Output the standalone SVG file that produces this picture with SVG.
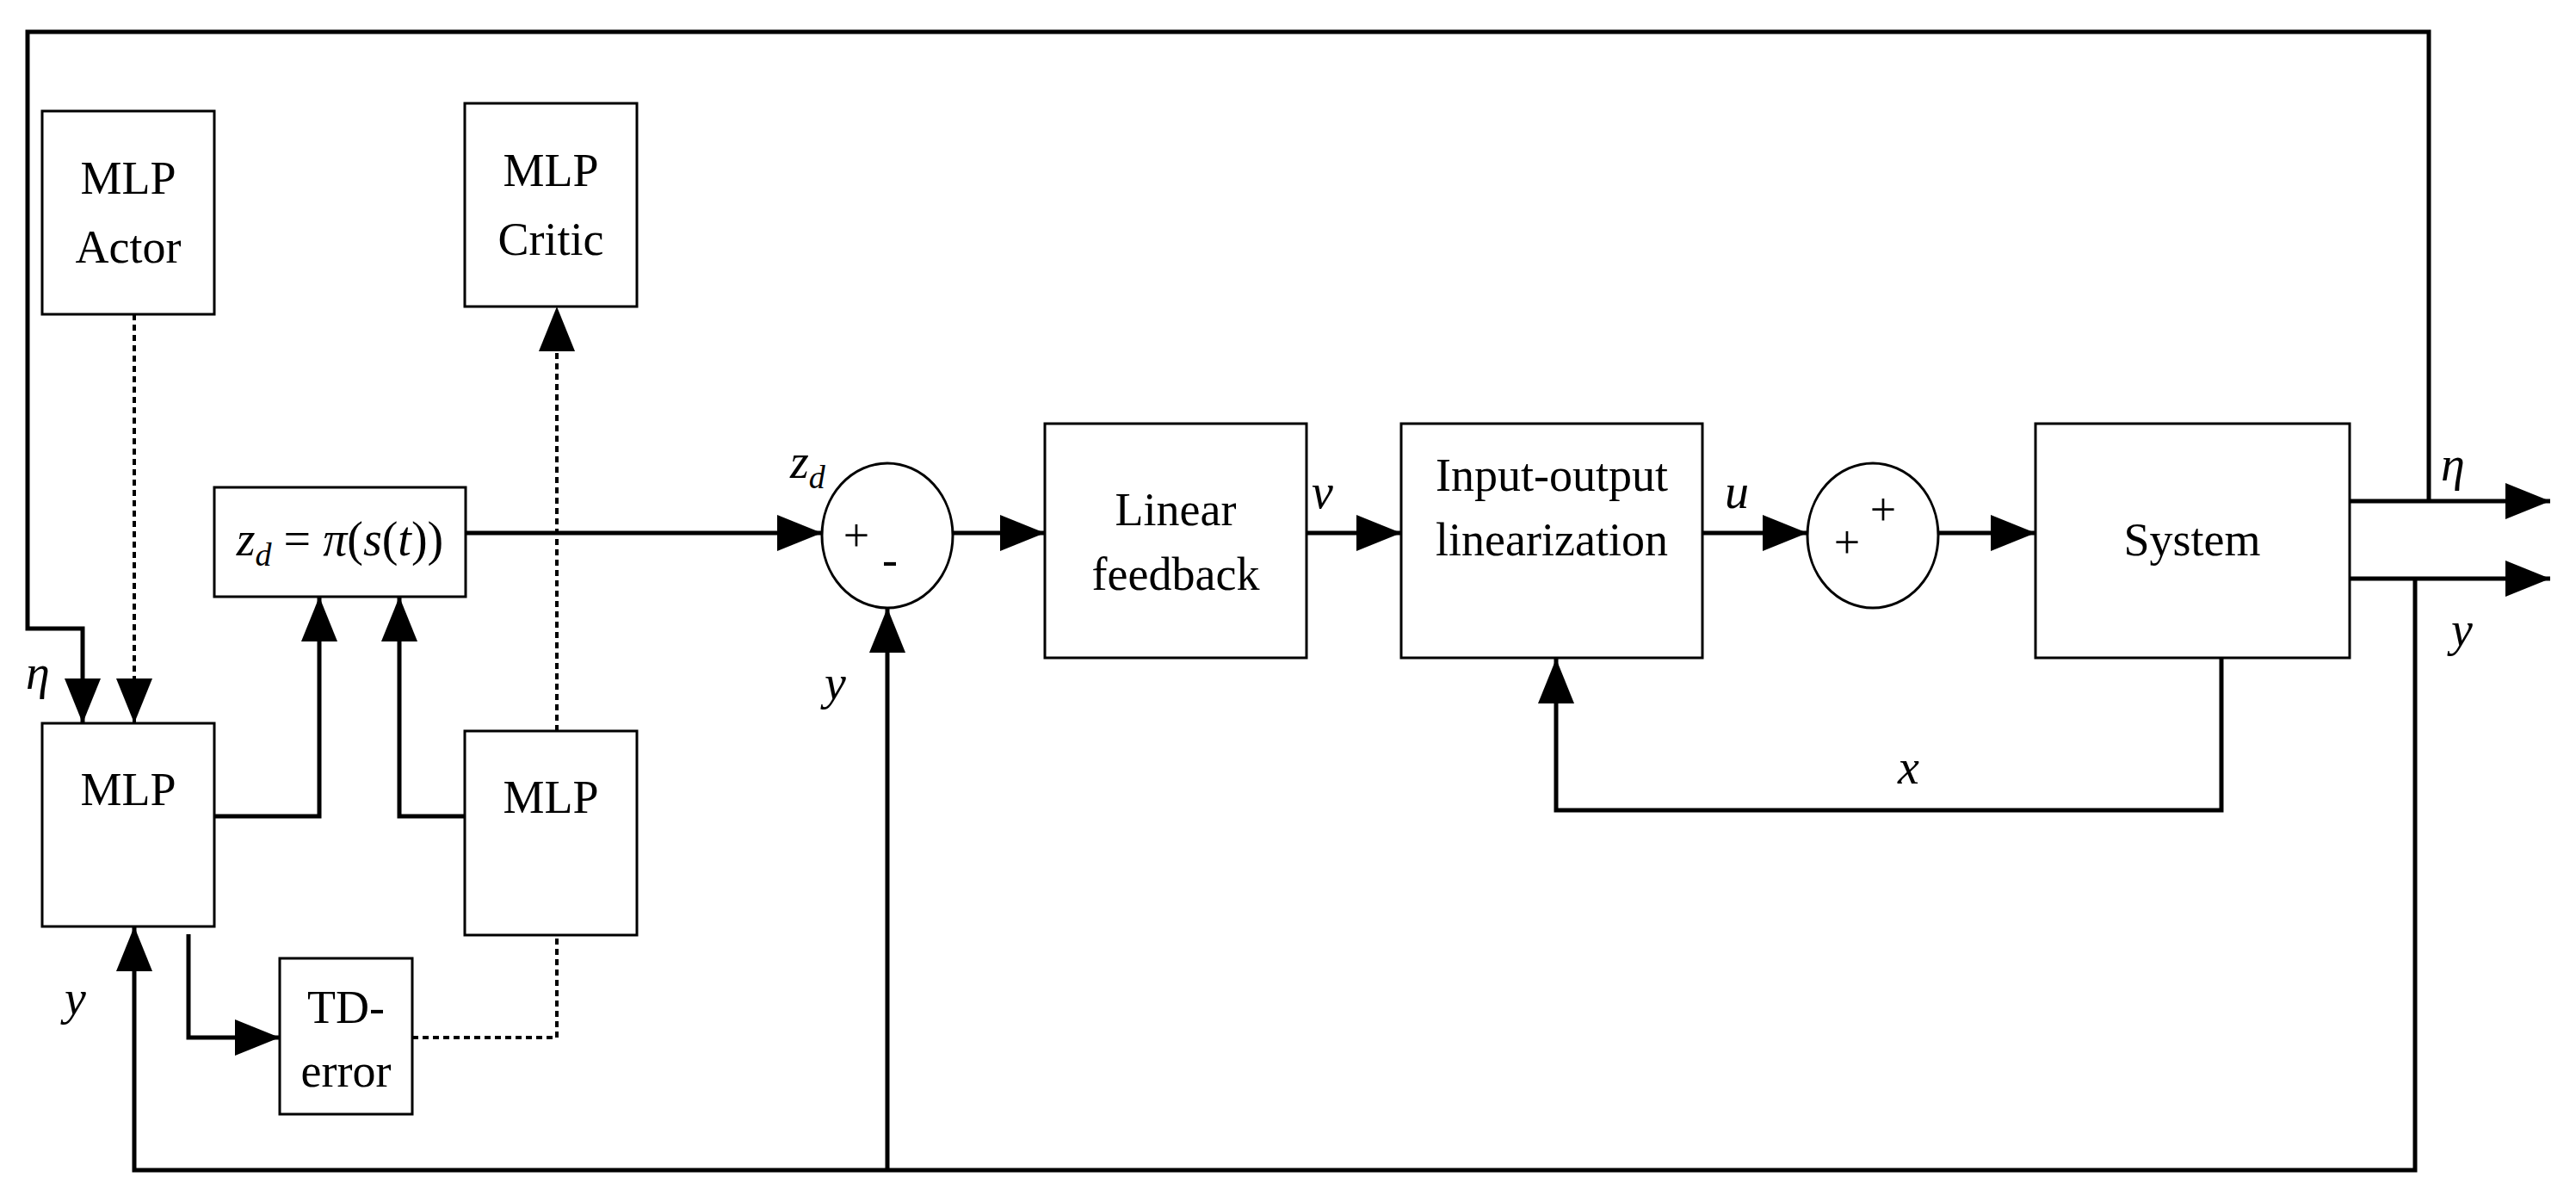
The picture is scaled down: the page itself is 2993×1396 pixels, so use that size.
<svg xmlns="http://www.w3.org/2000/svg" width="2993" height="1396" viewBox="0 0 2993 1396">
<style>
.box{fill:#fff;stroke:#000;stroke-width:3}
.t{font-family:"Liberation Serif",serif;font-size:54px;text-anchor:middle}
.i{font-family:"Liberation Serif",serif;font-size:56px;font-style:italic}
.ln{fill:none;stroke:#000;stroke-width:5}
.dt{fill:none;stroke:#000;stroke-width:4;stroke-dasharray:7,5}
.ar{marker-end:url(#a)}
</style>
<defs>
<marker id="a" markerUnits="userSpaceOnUse" markerWidth="54" markerHeight="44" refX="52" refY="21" orient="auto">
<path d="M0,0 L52,21 L0,42 z" fill="#000"/>
</marker>
</defs>
<g id="connectors">
<path class="ln" d="M2822,582 V37 H32 V730 H96 V840" marker-end="url(#a)"/>
<path class="dt ar" d="M156,365 V840"/>
<path class="ln ar" d="M249,948 H371 V693"/>
<path class="ln ar" d="M540,948 H464 V693"/>
<path class="dt ar" d="M647,849 V356"/>
<path class="ln ar" d="M219,1085 V1205 H325"/>
<path class="dt" d="M479,1205 H647 V1086"/>
<path class="ln ar" d="M2806,672 V1359 H156 V1076"/>
<path class="ln ar" d="M1031,1359 V706"/>
<path class="ln ar" d="M541,619 H955"/>
<path class="ln ar" d="M1107,619 H1214"/>
<path class="ln ar" d="M1518,619 H1628"/>
<path class="ln ar" d="M1978,619 H2100"/>
<path class="ln ar" d="M2252,619 H2365"/>
<path class="ln ar" d="M2730,582 H2963"/>
<path class="ln ar" d="M2730,672 H2963"/>
<path class="ln ar" d="M2581,765 V941 H1808 V765"/>
</g>
<g id="actor"><rect class="box" x="49" y="129" width="200" height="236"/><text class="t" x="149" y="225">MLP</text><text class="t" x="149" y="305">Actor</text></g>
<g id="critic"><rect class="box" x="540" y="120" width="200" height="236"/><text class="t" x="640" y="216">MLP</text><text class="t" x="640" y="296">Critic</text></g>
<g id="policy"><rect class="box" x="249" y="566" width="292" height="127"/><text class="i" x="395" y="645" text-anchor="middle">z<tspan font-size="38" dy="12">d</tspan><tspan dy="-12" font-style="normal"> = </tspan>π<tspan font-style="normal">(</tspan>s<tspan font-style="normal">(</tspan>t<tspan font-style="normal">))</tspan></text></g>
<g id="mlp1"><rect class="box" x="49" y="840" width="200" height="236"/><text class="t" x="149" y="935">MLP</text></g>
<g id="mlp2"><rect class="box" x="540" y="849" width="200" height="237"/><text class="t" x="640" y="944">MLP</text></g>
<g id="td"><rect class="box" x="325" y="1113" width="154" height="181"/><text class="t" x="402" y="1188">TD-</text><text class="t" x="402" y="1262">error</text></g>
<g id="sum1"><ellipse class="box" cx="1031" cy="622" rx="76" ry="84" stroke-width="4"/><text class="t" x="995" y="640" font-size="40">+</text><text class="t" x="1034" y="668" font-size="40">-</text></g>
<g id="linfb"><rect class="box" x="1214" y="492" width="304" height="272"/><text class="t" x="1366" y="610">Linear</text><text class="t" x="1366" y="685">feedback</text></g>
<g id="iolin"><rect class="box" x="1628" y="492" width="350" height="272"/><text class="t" x="1803" y="570">Input-output</text><text class="t" x="1803" y="645">linearization</text></g>
<g id="sum2"><ellipse class="box" cx="2176" cy="622" rx="76" ry="84" stroke-width="4"/><text class="t" x="2146" y="648" font-size="40">+</text><text class="t" x="2188" y="610" font-size="40">+</text></g>
<g id="system"><rect class="box" x="2365" y="492" width="365" height="272"/><text class="t" x="2547" y="645">System</text></g>
<g id="labels">
<text class="i" x="918" y="555">z<tspan font-size="38" dy="12">d</tspan></text>
<text class="i" x="958" y="812">y</text>
<text class="i" x="1524" y="590">v</text>
<text class="i" x="2004" y="590">u</text>
<text class="i" x="2205" y="910">x</text>
<text class="i" x="2836" y="558">η</text>
<text class="i" x="2848" y="750">y</text>
<text class="i" x="30" y="800">η</text>
<text class="i" x="75" y="1178">y</text>
</g>
</svg>
